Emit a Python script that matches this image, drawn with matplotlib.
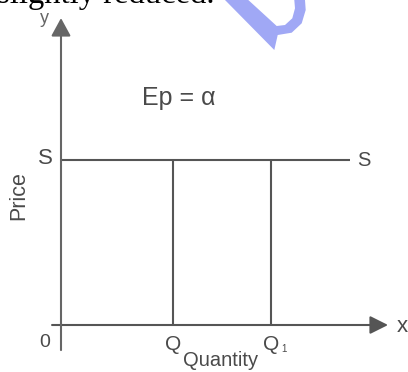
import matplotlib
matplotlib.use("Agg")
import matplotlib.pyplot as plt
from matplotlib.patches import Polygon

plt.rcParams['font.family'] = ['Liberation Sans', 'DejaVu Sans']

# ---- data (diagram units) ----
quantities = [4.0, 7.5]          # Q, Q1
quantity_labels = ['Q', 'Q']
quantity_subs = ['', '1']
supply_price = 5.0               # perfectly elastic supply level
supply_extent = [0.0, 10.32]
x_axis_extent = [-0.32, 11.68]
y_axis_extent = [-0.76, 9.30]
elasticity_text = 'Ep = α'

W, H = 408, 372
KX, KY = 28.0, 33.0
OX, OY = 61.0, 325.0

fig = plt.figure(figsize=(W / 100, H / 100), dpi=100)
ax = fig.add_axes([0, 0, 1, 1])
ax.set_xlim(-OX / KX, (W - OX) / KX)
ax.set_ylim((OY - H) / KY, OY / KY)
ax.axis('off')

line_c = '#555555'
text_c = '#4a4a4a'

# axes with arrows
ax.annotate('', xy=(x_axis_extent[1], 0), xytext=(x_axis_extent[0], 0),
            arrowprops=dict(arrowstyle='-|>,head_length=1.1,head_width=0.55',
                            mutation_scale=10, color=line_c, lw=1.5,
                            shrinkA=0, shrinkB=0))
ax.annotate('', xy=(0, y_axis_extent[1]), xytext=(0, y_axis_extent[0]),
            arrowprops=dict(arrowstyle='-|>,head_length=1.1,head_width=0.6',
                            mutation_scale=10, color='#666666', lw=1.5,
                            shrinkA=0, shrinkB=0))

# supply line
ax.plot(supply_extent, [supply_price, supply_price], color=line_c, lw=1.5,
        solid_capstyle='butt')
# verticals
for q in quantities:
    ax.plot([q, q], [0, supply_price], color=line_c, lw=1.5,
            solid_capstyle='butt')

# labels
ax.text(-0.57, supply_price + 0.05, 'S', fontsize=16, color=text_c,
        ha='center', va='center')
ax.text(supply_extent[1] + 0.5, supply_price, 'S', fontsize=14.5, color=text_c,
        ha='center', va='center')
ax.text(-0.57, -0.52, '0', fontsize=14, color=text_c, ha='center', va='center')
ax.text(x_axis_extent[1] + 0.5, -0.06, 'x', fontsize=16, color=text_c,
        ha='center', va='center')
ax.text(-0.6, y_axis_extent[1] + 0.0, 'y', fontsize=13, color='#666666',
        ha='center', va='center')

for q, lab, sub in zip(quantities, quantity_labels, quantity_subs):
    ax.text(q, -0.58, lab, fontsize=15, color=text_c, ha='center', va='center')
    if sub:
        ax.text(q + 0.45, -0.72, sub, fontsize=7, color=text_c,
                ha='center', va='center')

ax.text(5.7, -1.08, 'Quantity', fontsize=14.5, color=text_c,
        ha='center', va='center')
ax.text(-1.5, (OY - 196) / KY, 'Price', fontsize=15.5, color=text_c,
        ha='center', va='center', rotation=90)
ax.text(4.2, (OY - 105) / KY, elasticity_text, fontsize=18, color=text_c,
        ha='center', va='baseline')

# overlay in pixel coordinates for page fragments (cut-off text, watermark)
ov = fig.add_axes([0, 0, 1, 1], facecolor='none')
ov.set_xlim(0, W)
ov.set_ylim(H, 0)
ov.axis('off')
ov.text(-3, 3.5, 'slightly reduced.', fontsize=23.5, color='black',
        family=['Liberation Serif'], ha='left', va='baseline')
wm = [(225, 0), (248.3, 0), (276.7, 26), (285, 25), (292.3, 18.3),
      (295, 8.3), (294.3, 0), (305, 0), (305.7, 10), (301.7, 23.3),
      (291.7, 32.7), (277.7, 35), (274.3, 50)]
ov.add_patch(Polygon(wm, closed=True, facecolor='#a0a8f5', edgecolor='none'))

fig.savefig('out.png', dpi=100)
